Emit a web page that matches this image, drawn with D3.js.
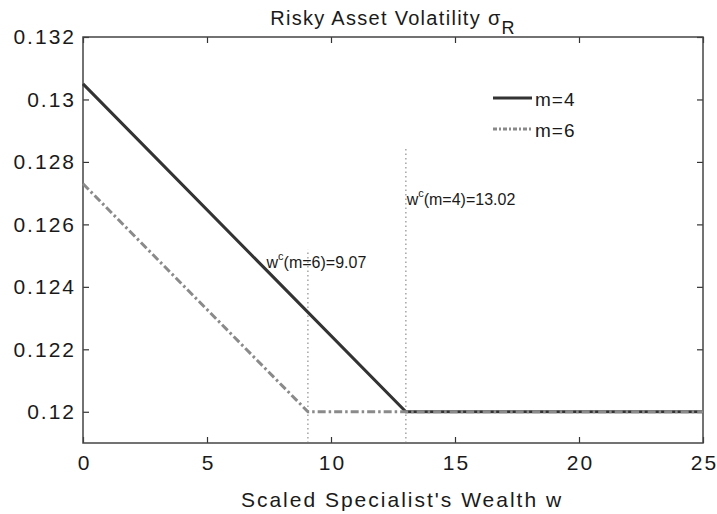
<!DOCTYPE html>
<html>
<head>
<meta charset="utf-8">
<script src="https://cdn.jsdelivr.net/npm/d3@7"></script>
<style>
  body { margin: 0; background: #fff; }
  svg { display: block; font-family: "Liberation Sans", Arial, sans-serif; }
</style>
</head>
<body>
<svg id="chart" width="717" height="514"></svg>
<script>
// values
const wealth4 = [0, 13.02, 25];
const sigma4 = [0.1305, 0.12, 0.12];
const wealth6 = [0, 9.07, 25];
const sigma6 = [0.1273, 0.12, 0.12];

const critW = [9.07, 13.02];
const critTop = [0.1252, 0.1285];
const critLabel = ["(m=6)=9.07", "(m=4)=13.02"];

const xTicks = [0, 5, 10, 15, 20, 25];
const yTicks = [0.12, 0.122, 0.124, 0.126, 0.128, 0.13, 0.132];
const seriesNames = ["m=4", "m=6"];

const W = 717, H = 514;
const margin = { top: 37, right: 14, bottom: 71, left: 83 };
const svg = d3.select("#chart");

const x = d3.scaleLinear().domain([0, 25]).range([margin.left, W - margin.right]);
const y = d3.scaleLinear().domain([0.119, 0.132]).range([H - margin.bottom, margin.top]);

const fmt = v => String(+v.toFixed(3));
const tickLen = 6;

// axes, matlab style: ticks inward on all four sides
const styleAxis = g => {
  g.select(".domain").remove();
  g.selectAll(".tick line").attr("stroke", "#333").attr("stroke-width", 1.2);
  g.selectAll(".tick text")
    .attr("fill", "#1a1a1a")
    .attr("font-size", 21)
    .attr("letter-spacing", "2px");
};

svg.append("g")
  .attr("transform", `translate(0,${y.range()[0]})`)
  .call(d3.axisBottom(x).tickValues(xTicks).tickFormat(fmt).tickSizeInner(-tickLen).tickSizeOuter(0).tickPadding(12))
  .call(styleAxis)
  .call(g => g.selectAll(".tick text").attr("dx", "1px"));

svg.append("g")
  .attr("transform", `translate(${x.range()[0]},0)`)
  .call(d3.axisLeft(y).tickValues(yTicks).tickFormat(fmt).tickSizeInner(-tickLen).tickSizeOuter(0).tickPadding(7))
  .call(styleAxis);

svg.append("g")
  .attr("transform", `translate(0,${y.range()[1]})`)
  .call(d3.axisTop(x).tickValues(xTicks).tickFormat("").tickSizeInner(-tickLen).tickSizeOuter(0))
  .call(styleAxis);

svg.append("g")
  .attr("transform", `translate(${x.range()[1]},0)`)
  .call(d3.axisRight(y).tickValues(yTicks).tickFormat("").tickSizeInner(-tickLen).tickSizeOuter(0))
  .call(styleAxis);

svg.append("rect")
  .attr("x", x.range()[0])
  .attr("y", y.range()[1])
  .attr("width", x.range()[1] - x.range()[0])
  .attr("height", y.range()[0] - y.range()[1])
  .attr("fill", "none")
  .attr("stroke", "#444")
  .attr("stroke-width", 1.5);

// critical wealth markers
svg.append("g").selectAll("line")
  .data(critW)
  .join("line")
  .attr("x1", d => x(d))
  .attr("x2", d => x(d))
  .attr("y1", y(0.119))
  .attr("y2", (d, i) => y(critTop[i]))
  .attr("stroke", "#777")
  .attr("stroke-width", 1)
  .attr("stroke-dasharray", "1.5,3");

const line = d3.line().x(d => x(d[0])).y(d => y(d[1]));

svg.append("path")
  .datum(d3.zip(wealth4, sigma4))
  .attr("d", line)
  .attr("fill", "none")
  .attr("stroke", "#333")
  .attr("stroke-width", 3);

svg.append("path")
  .datum(d3.zip(wealth6, sigma6))
  .attr("d", line)
  .attr("fill", "none")
  .attr("stroke", "#8a8a8a")
  .attr("stroke-width", 3)
  .attr("stroke-dasharray", "8,3,2.5,3");

// annotations
const notePos = [[7.4, 0.1246], [13.05, 0.12662]];
critLabel.forEach((lab, i) => {
  const t = svg.append("text")
    .attr("x", x(notePos[i][0]))
    .attr("y", y(notePos[i][1]))
    .attr("font-size", 16)
    .attr("fill", "#1a1a1a");
  t.append("tspan").text("w");
  t.append("tspan").attr("font-size", 11).attr("dy", -8).text("c");
  t.append("tspan").attr("dy", 8).text(lab);
});

// legend
const legend = svg.append("g");
const legendStyles = [
  { stroke: "#333", dash: null },
  { stroke: "#8a8a8a", dash: "4,2,2,2" }
];
seriesNames.forEach((name, i) => {
  const ly = 98 + i * 31;
  legend.append("line")
    .attr("x1", 493).attr("x2", 532)
    .attr("y1", ly).attr("y2", ly)
    .attr("stroke", legendStyles[i].stroke)
    .attr("stroke-width", 3)
    .attr("stroke-dasharray", legendStyles[i].dash);
  legend.append("text")
    .attr("x", 535)
    .attr("y", ly + 7.5)
    .attr("font-size", 19)
    .attr("letter-spacing", "1px")
    .attr("fill", "#1a1a1a")
    .text(name);
});

// title and axis label
const title = svg.append("text")
  .attr("x", (x.range()[0] + x.range()[1]) / 2)
  .attr("y", 25)
  .attr("text-anchor", "middle")
  .attr("font-size", 20)
  .attr("letter-spacing", "1.3px")
  .attr("fill", "#1a1a1a");
title.append("tspan").text("Risky Asset Volatility σ");
title.append("tspan").attr("dy", 9).attr("font-size", 18).text("R");

svg.append("text")
  .attr("x", 402)
  .attr("y", 507)
  .attr("text-anchor", "middle")
  .attr("font-size", 21)
  .attr("letter-spacing", "2px")
  .attr("fill", "#1a1a1a")
  .text("Scaled Specialist's Wealth w");
</script>
</body>
</html>
